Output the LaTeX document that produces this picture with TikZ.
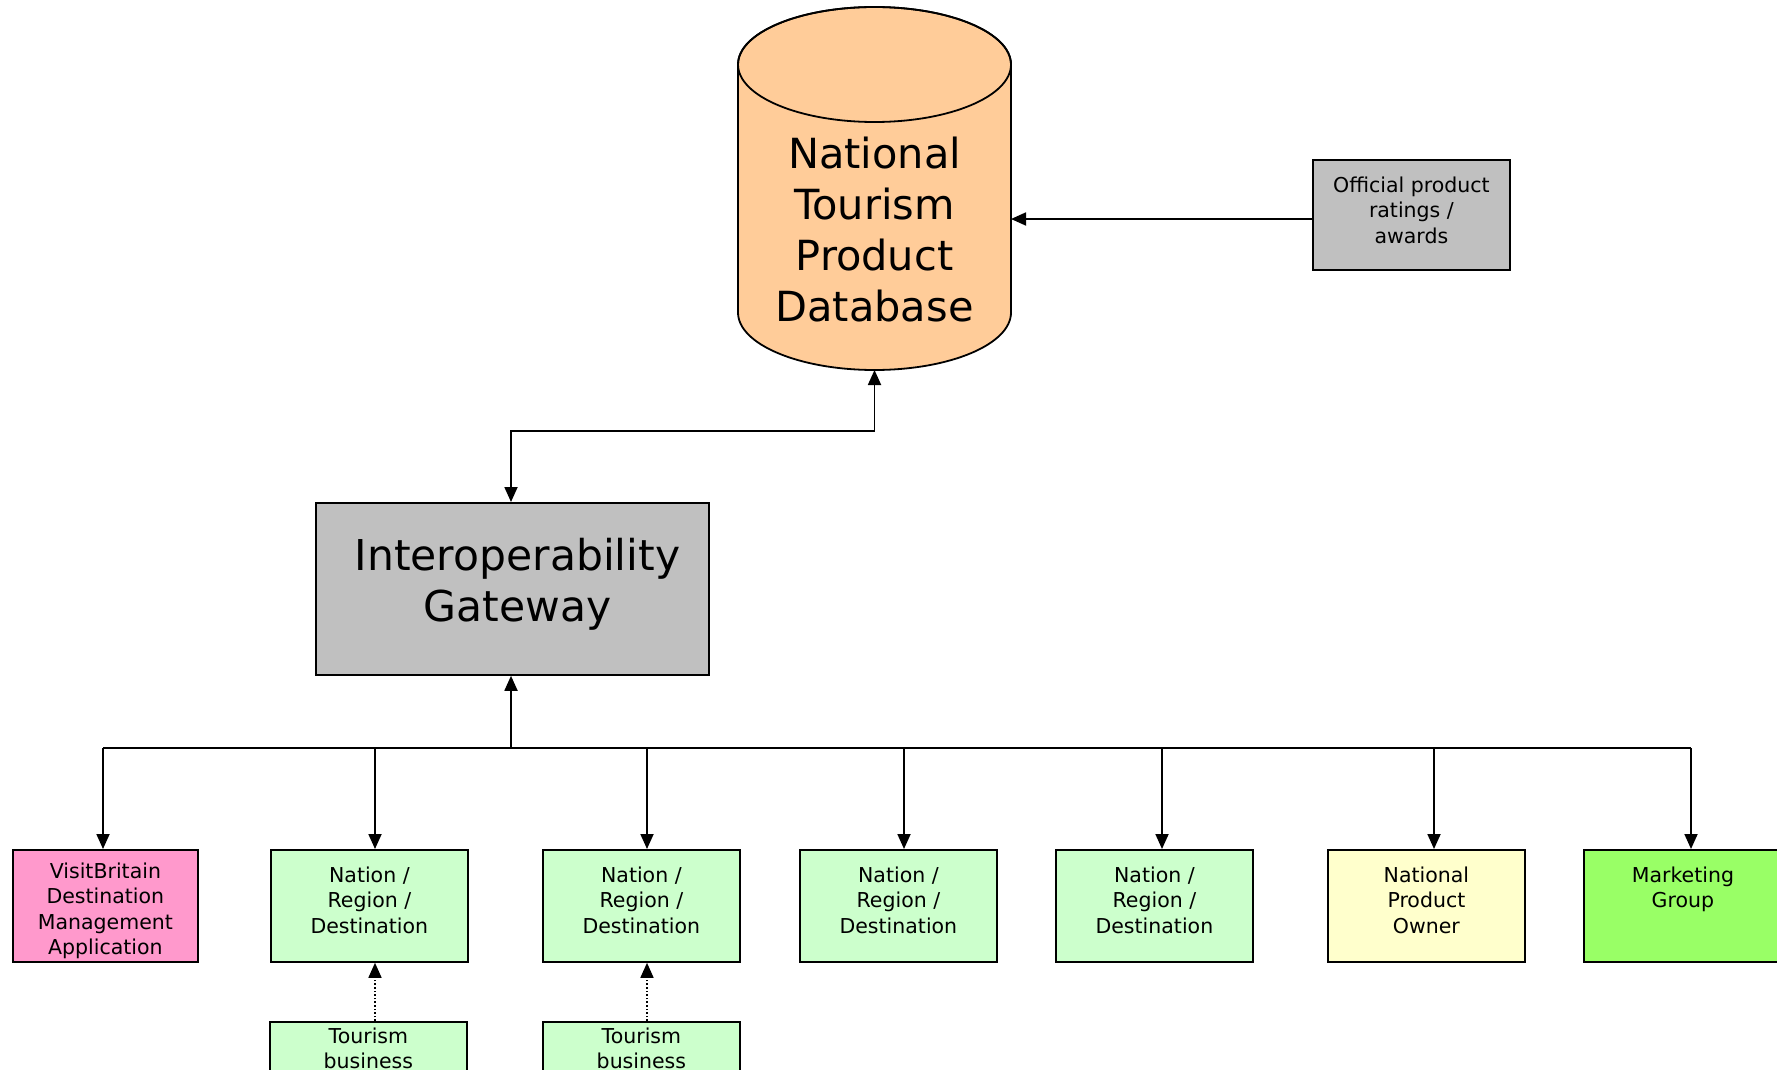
\documentclass[tikz,border=0pt]{standalone}
\usepackage{fontspec}
\setmainfont{DejaVu Sans}
\usetikzlibrary{arrows.meta,calc}
\definecolor{pinkc}{HTML}{FF99CC}
\definecolor{lgreen}{HTML}{CCFFCC}
\definecolor{lyellow}{HTML}{FFFFCC}
\definecolor{bgreen}{HTML}{99FF66}
\definecolor{grayc}{HTML}{C0C0C0}
\definecolor{orangec}{HTML}{FFCC99}
\begin{document}
\begin{tikzpicture}[x=1pt,y=-1pt,
  box/.style={draw=black,line width=1.8pt,inner sep=0pt,anchor=north west},
  txt/.style={font=\fontsize{20.5}{25.5}\selectfont,align=center,inner sep=0pt,anchor=north},
  bigtxt/.style={align=center,inner sep=0pt,anchor=north},
  tip/.style={line width=1.8pt,-{Triangle[length=15pt,width=13pt]}},
  dtip/.style={line width=1.8pt,{Triangle[length=15pt,width=13pt]}-{Triangle[length=15pt,width=13pt]}},
  dottip/.style={line width=1.6pt,dotted,-{Triangle[length=15pt,width=13pt]}},
]
\useasboundingbox (0,0) rectangle (1777,1070);

% database cylinder
\filldraw[fill=orangec,draw=black,line width=1.8pt]
  (738,64.5) -- (738,312.5) arc[start angle=180,end angle=0,x radius=136.5,y radius=57.5]
  -- (1011,64.5) arc[start angle=0,end angle=-180,x radius=136.5,y radius=57.5] -- cycle;
\draw[line width=1.8pt] (874.5,64.5) ellipse[x radius=136.5,y radius=57.5];
\coordinate (dbbot) at (874.5,370);
\coordinate (dbright) at (1011,219);
\node[bigtxt,font=\fontsize{41.5}{51}\selectfont] (dbtxt) at (874.5,136.5) {National\\Tourism\\Product\\Database};

% official ratings
\node[box,fill=grayc,minimum width=197pt,minimum height=110pt] (off) at (1312,159) {};
\node[txt] (offtxt) at (off.north |- 0,176.4) {Official product\\ratings /\\awards};

% gateway
\node[box,fill=grayc,minimum width=393pt,minimum height=172pt] (gw) at (315,502) {};
\node[bigtxt,font=\fontsize{42.5}{51}\selectfont] (gwtxt) at ($(gw.north |- 0,537.7)+(5,0)$) {Interoperability\\Gateway};

% bottom boxes
\node[box,fill=pinkc,minimum width=185pt,minimum height=112pt] (vb) at (12,849) {};
\node[box,fill=lgreen,minimum width=197pt,minimum height=112pt] (g1) at (270,849) {};
\node[box,fill=lgreen,minimum width=197pt,minimum height=112pt] (g2) at (542,849) {};
\node[box,fill=lgreen,minimum width=197pt,minimum height=112pt] (g3) at (799,849) {};
\node[box,fill=lgreen,minimum width=197pt,minimum height=112pt] (g4) at (1055,849) {};
\node[box,fill=lyellow,minimum width=197pt,minimum height=112pt] (np) at (1327,849) {};
\node[box,fill=bgreen,minimum width=198pt,minimum height=112pt] (mg) at (1583,849) {};
\node[box,fill=lgreen,minimum width=197pt,minimum height=100pt] (t1) at (269,1021) {};
\node[box,fill=lgreen,minimum width=197pt,minimum height=100pt] (t2) at (542,1021) {};

\node[txt] (vbtxt) at (vb.north |- 0,862.4) {VisitBritain\\Destination\\Management\\Application};
\node[txt] (g1txt) at (g1.north |- 0,866.4) {Nation /\\Region /\\Destination};
\node[txt] (g2txt) at (g2.north |- 0,866.4) {Nation /\\Region /\\Destination};
\node[txt] (g3txt) at (g3.north |- 0,866.4) {Nation /\\Region /\\Destination};
\node[txt] (g4txt) at (g4.north |- 0,866.4) {Nation /\\Region /\\Destination};
\node[txt] (nptxt) at (np.north |- 0,866.4) {National\\Product\\Owner};
\node[txt] (mgtxt) at (mg.north |- 0,866.4) {Marketing\\Group};
\node[txt] (t1txt) at (t1.north |- 0,1027.4) {Tourism\\business};
\node[txt] (t2txt) at (t2.north |- 0,1027.4) {Tourism\\business};

% bus coordinates
\coordinate (bvb) at (103,748);
\coordinate (bg1) at (375,748);
\coordinate (bg2) at (647,748);
\coordinate (bg3) at (904,748);
\coordinate (bg4) at (1162,748);
\coordinate (bnp) at (1434,748);
\coordinate (bmg) at (1691,748);
\coordinate (bgw) at (511,748);

% connectors
\draw[tip] (dbright -| off.west) -- (dbright);
\draw[dtip] (gw.north -| bgw) -- ++(0,-71) -| (dbbot);
\draw[tip] (bgw) -- (gw.south -| bgw);
\draw[line width=1.8pt] (bvb) -- (bmg);
\foreach \b/\n in {bvb/vb,bg1/g1,bg2/g2,bg3/g3,bg4/g4,bnp/np,bmg/mg}{
  \draw[tip] (\b) -- (\b |- \n.north);
}
\draw[dottip] (bg1 |- t1.north) -- (bg1 |- g1.south);
\draw[dottip] (bg2 |- t2.north) -- (bg2 |- g2.south);
\end{tikzpicture}
\end{document}
